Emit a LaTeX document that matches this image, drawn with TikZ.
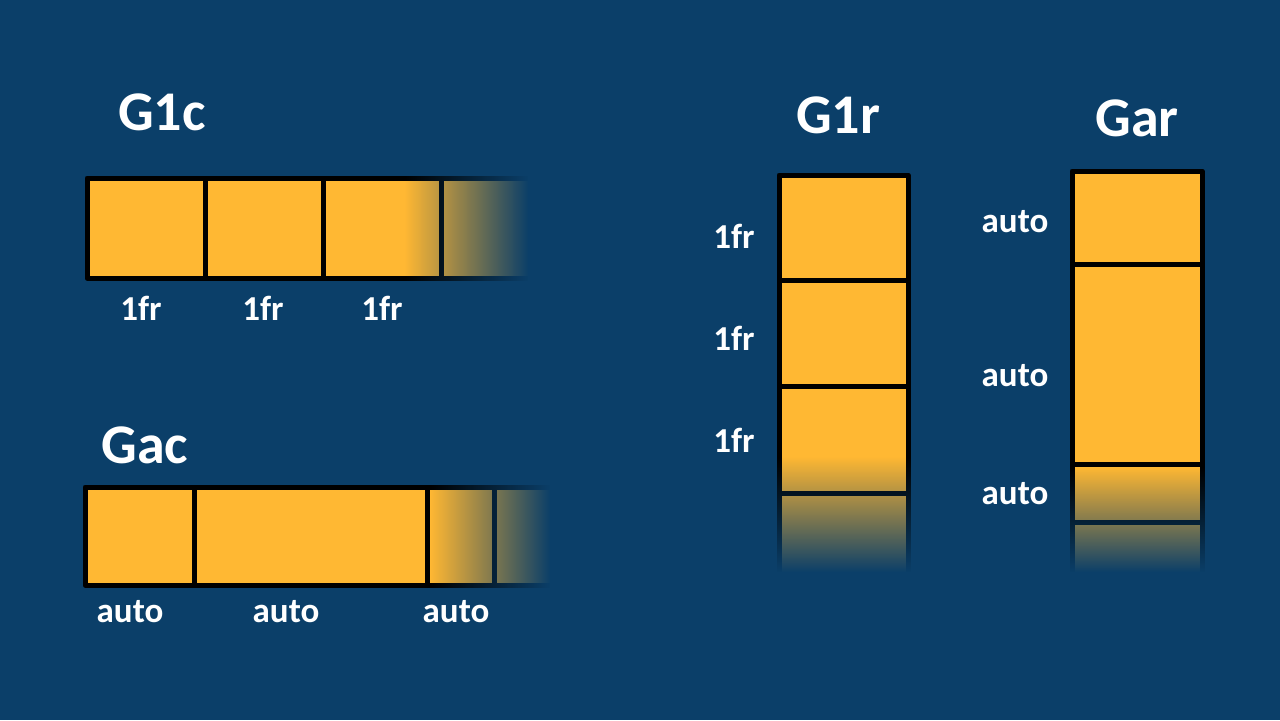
\documentclass[tikz,border=0pt]{standalone}
\usepackage{fontspec}
\setmainfont{Carlito}
\usetikzlibrary{fadings}
\definecolor{slate}{HTML}{0B3F69}
\definecolor{gold}{HTML}{FFB833}
\tikzfading[name=fade right, left color=transparent!100, right color=transparent!0]
\tikzfading[name=fade down, top color=transparent!100, bottom color=transparent!0]

\begin{document}
\begin{tikzpicture}[x=0.5pt, y=-0.5pt,
		cell/.style={fill=gold, draw=black, line width=2.5pt, line join=round},
		title/.style={text=white, font=\bfseries\fontsize{28}{32}\selectfont, inner sep=0pt},
		track/.style={text=white, font=\bfseries\fontsize{17.5}{20}\selectfont, inner sep=0pt}
		]
		\fill[slate] (0,0) rectangle (1280,720);
		\useasboundingbox (0,0) rectangle (1280,720);

		% G1c: three 1fr columns, fading out to the right
		\draw[cell] (87,178) rectangle (205,278);
		\draw[cell] (205,178) rectangle (323,278);
		\draw[cell] (323,178) rectangle (441,278);
		\draw[cell] (441,178) rectangle (580,278);
		\fill[slate, path fading=fade right] (405,170) rectangle (528,290);
		\fill[slate] (528,170) rectangle (600,290);
		\node (g1c) at (162,112) [title] {G1c};
		\node (g1c col 1) at (141,308) [track] {1fr};
		\node (g1c col 2) at (263,308) [track] {1fr};
		\node (g1c col 3) at (382,308) [track] {1fr};

		% Gac: auto columns
		\draw[cell] (85,487) rectangle (194,585);
		\draw[cell] (194,487) rectangle (427,585);
		\draw[cell] (427,487) rectangle (494,585);
		\draw[cell] (494,487) rectangle (600,585);
		\fill[slate, path fading=fade right] (430,479) rectangle (550,595);
		\fill[slate] (550,479) rectangle (620,595);
		\node (gac) at (145,445) [title] {Gac};
		\node (gac col 1) at (130,612) [track] {auto};
		\node (gac col 2) at (286,612) [track] {auto};
		\node (gac col 3) at (456,612) [track] {auto};

		% G1r: three 1fr rows, fading out downwards
		\draw[cell] (779,175) rectangle (908,280);
		\draw[cell] (779,280) rectangle (908,386);
		\draw[cell] (779,386) rectangle (908,493);
		\draw[cell] (779,493) rectangle (908,620);
		\fill[slate, path fading=fade down] (770,457) rectangle (918,572);
		\fill[slate] (770,572) rectangle (918,640);
		\node (g1r) at (838,115) [title] {G1r};
		\node (g1r row 1) at (734,236) [track] {1fr};
		\node (g1r row 2) at (734,338) [track] {1fr};
		\node (g1r row 3) at (734,440) [track] {1fr};

		% Gar: auto rows
		\draw[cell] (1072,171) rectangle (1202,264);
		\draw[cell] (1072,264) rectangle (1202,464);
		\draw[cell] (1072,464) rectangle (1202,522);
		\draw[cell] (1072,522) rectangle (1202,620);
		\fill[slate, path fading=fade down] (1062,467) rectangle (1212,572);
		\fill[slate] (1062,572) rectangle (1212,640);
		\node (gar) at (1137,118) [title] {Gar};
		\node (gar row 1) at (1015,222) [track] {auto};
		\node (gar row 2) at (1015,376) [track] {auto};
		\node (gar row 3) at (1015,494) [track] {auto};
	\end{tikzpicture}
\end{document}
